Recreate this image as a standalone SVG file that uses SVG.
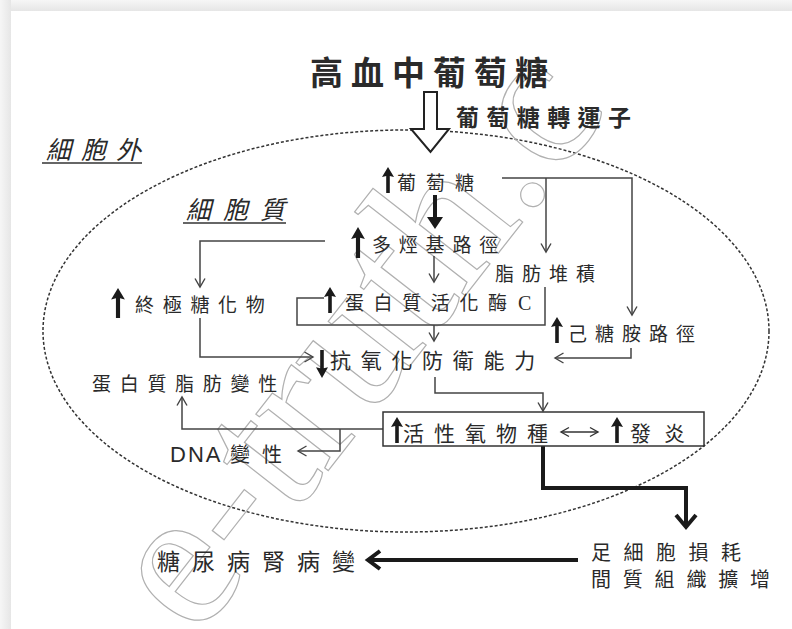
<svg xmlns="http://www.w3.org/2000/svg" width="792" height="629" viewBox="0 0 792 629">
<defs>
<style>
.t{font-family:'Noto Sans CJK TC','Noto Sans CJK SC',sans-serif;fill:#2a2a2a;}
.ln{fill:none;stroke:#444;stroke-width:1.5;}
.thick{fill:none;stroke:#1a1a1a;stroke-width:4;}
.wm{font-family:'Liberation Serif',serif;font-size:200px;fill:none;stroke:#b0b0b0;stroke-width:1.2;}
</style>
<marker id="ah" markerWidth="12" markerHeight="12" refX="10" refY="6" orient="auto" markerUnits="userSpaceOnUse">
<path d="M1.5,1 L10,6 L1.5,11" fill="none" stroke="#444" stroke-width="1.4"/>
</marker>
<marker id="ahs" markerWidth="12" markerHeight="12" refX="10" refY="6" orient="auto-start-reverse" markerUnits="userSpaceOnUse">
<path d="M2,1.5 L10,6 L2,10.5" fill="none" stroke="#333" stroke-width="1.4"/>
</marker>
<path id="up" d="M0,0 L-6,10 L-1.8,9 L-1.8,26 L1.8,26 L1.8,9 L6,10 Z" fill="#1a1a1a"/>
<linearGradient id="gt" x1="0" y1="0" x2="0" y2="1"><stop offset="0" stop-color="#f6f6f6"/><stop offset="1" stop-color="#e6e6e6"/></linearGradient>
<linearGradient id="gl" x1="0" y1="0" x2="1" y2="0"><stop offset="0" stop-color="#f6f6f6"/><stop offset="1" stop-color="#e6e6e6"/></linearGradient>
</defs>

<rect width="792" height="629" fill="#ffffff"/>
<rect x="0" y="0" width="792" height="11" fill="url(#gt)"/>
<rect x="0" y="0" width="11" height="629" fill="url(#gl)"/>

<!-- membrane -->
<ellipse id="membrane" cx="406" cy="331" rx="363" ry="201" fill="none" stroke="#333" stroke-width="1.5" stroke-dasharray="3 2"/>

<!-- watermark -->
<text class="wm" transform="translate(196,640) rotate(-52)">e-truth.c</text>

<g id="connectors">
<!-- hollow transporter arrow -->
<path d="M424,92 H437 V129 H449 L430.5,152 L411,129 H424 Z" fill="#fff" stroke="#222" stroke-width="2"/>
<!-- glucose branches -->
<path class="ln" d="M502,178 H632 V315" marker-end="url(#ah)"/>
<path class="ln" d="M546,178 V252" marker-end="url(#ah)"/>
<!-- bold down glucose -> polyol -->
<path d="M433,195 H437 V217 H443 L435,229 L427,217 H433 Z" fill="#1a1a1a"/>
<!-- polyol -> AGE -->
<path class="ln" d="M325,241 H200 V287" marker-end="url(#ah)"/>
<!-- polyol -> PKC -->
<path class="ln" d="M434,256 V282" marker-end="url(#ah)"/>
<!-- fat -> PKC loop -->
<path class="ln" d="M545,287 V325 H297 V298 H324"/>
<!-- PKC -> antioxidant -->
<path class="ln" d="M434,325 V341" marker-end="url(#ah)"/>
<!-- AGE -> antioxidant -->
<path class="ln" d="M200,318 V357 H313" marker-end="url(#ah)"/>
<!-- hexosamine -> antioxidant -->
<path class="ln" d="M631,348 V358 H555" marker-end="url(#ah)"/>
<!-- antioxidant -> ROS box -->
<path class="ln" d="M435,377 V393 H543 V411" marker-end="url(#ah)"/>
<!-- ROS -> protein/lipid -->
<path class="ln" d="M383,429 H182 V397" marker-end="url(#ah)"/>
<!-- ROS -> DNA -->
<path class="ln" d="M340,429 V451 H298" marker-end="url(#ah)"/>
<!-- double arrow in box -->
<path d="M561,432 H598" fill="none" stroke="#333" stroke-width="1.4" marker-start="url(#ahs)" marker-end="url(#ahs)"/>
<!-- thick ROS -> podocyte -->
<path class="thick" d="M543,446 V488 H686 V524"/>
<path class="thick" d="M676,515 L686,527 L696,515" stroke-linejoin="miter"/>
<!-- thick to nephropathy -->
<path class="thick" d="M578,560 H371"/>
<path class="thick" d="M380,551 L368,560 L380,569" stroke-linejoin="miter"/>
</g>

<g id="n-title"><text class="t" x="310" y="85" font-size="33" font-weight="700" letter-spacing="8">高血中葡萄糖</text></g>
<g id="n-transporter"><text class="t" x="456" y="126" font-size="23" font-weight="700" letter-spacing="7.4">葡萄糖轉運子</text></g>
<g id="n-extra"><text class="t" x="46" y="159" font-size="25" font-style="italic" letter-spacing="10">細胞外</text><line x1="42" y1="163" x2="142" y2="163" stroke="#333" stroke-width="1.6"/></g>
<g id="n-cyto"><text class="t" x="186" y="219" font-size="25" font-style="italic" letter-spacing="12">細胞質</text><line x1="183" y1="223" x2="286" y2="223" stroke="#333" stroke-width="1.6"/></g>

<g id="n-glucose"><use href="#up" x="388" y="167"/><text class="t" x="397" y="190" font-size="19" letter-spacing="10">葡萄糖</text></g>
<g id="n-polyol"><use href="#up" transform="translate(358,227) scale(1.15,1.19)"/><text class="t" x="372" y="252" font-size="19" letter-spacing="7.8">多烴基路徑</text></g>
<g id="n-fat"><text class="t" x="495" y="281" font-size="19" letter-spacing="8">脂肪堆積</text></g>
<g id="n-age"><use href="#up" transform="translate(118,288) scale(1.15,1.15)"/><text class="t" x="135" y="312" font-size="19" letter-spacing="8.7">終極糖化物</text></g>
<g id="n-pkc"><use href="#up" x="330" y="287"/><text class="t" x="345" y="310" font-size="19" letter-spacing="9.6">蛋白質活化酶</text><text x="518" y="310" font-family="'Liberation Serif',serif" font-size="20" fill="#2a2a2a">C</text></g>
<g id="n-hexos"><use href="#up" x="557" y="317"/><text class="t" x="568" y="341" font-size="19" letter-spacing="8">己糖胺路徑</text></g>
<g id="n-antiox"><use href="#up" transform="translate(322,378) scale(1,-1.08)"/><text class="t" x="330" y="368" font-size="21" letter-spacing="9.7">抗氧化防衛能力</text></g>
<g id="n-protlip"><text class="t" x="92" y="391" font-size="19" letter-spacing="8.7">蛋白質脂肪變性</text></g>
<g id="n-dna"><text class="t" x="170" y="462" font-size="20"><tspan font-family="'Liberation Sans',sans-serif" font-size="22" letter-spacing="2">DNA</tspan><tspan x="230" letter-spacing="12">變性</tspan></text></g>
<g id="n-ros"><rect x="383" y="412" width="321" height="34" fill="none" stroke="#333" stroke-width="1.5"/><use href="#up" x="397" y="417"/><text class="t" x="403" y="441" font-size="21" letter-spacing="10">活性氧物種</text><use href="#up" x="617" y="417"/><text class="t" x="630" y="441" font-size="21" letter-spacing="13">發炎</text></g>
<g id="n-podo"><text class="t" x="591" y="560" font-size="20" letter-spacing="12.5">足細胞損耗</text><text class="t" x="591" y="587" font-size="20" letter-spacing="11.8">間質組織擴增</text></g>
<g id="n-neph"><text class="t" x="157" y="570" font-size="23" letter-spacing="12">糖尿病腎病變</text></g>
</svg>
